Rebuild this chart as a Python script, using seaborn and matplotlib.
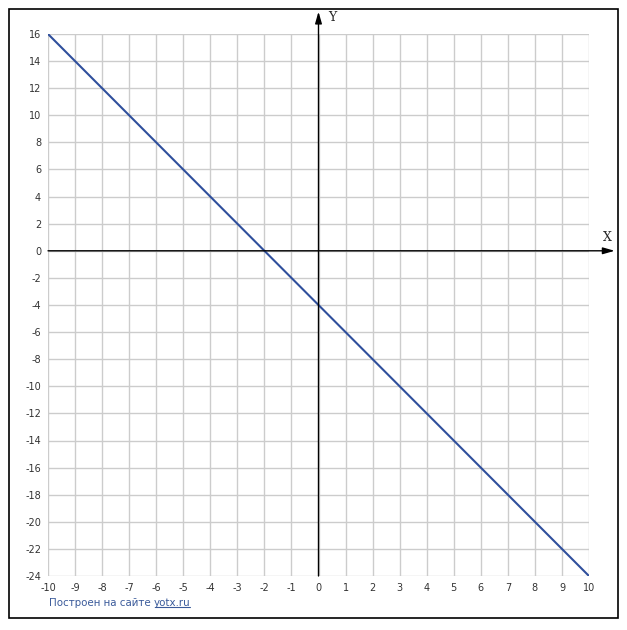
import matplotlib
matplotlib.use("Agg")
import matplotlib.pyplot as plt
import numpy as np
import seaborn as sns

# line y = -2x - 4
x_vals = [-10, 10]
y_vals = [16, -24]
x_ticks = list(range(-10, 11))
y_ticks = list(range(-24, 17, 2))

sns.set_style("white")
plt.rcParams['font.family'] = ['DejaVu Sans']
plt.rcParams['axes.unicode_minus'] = False

W, H = 627, 630
fig = plt.figure(figsize=(W / 100, H / 100), dpi=100)
fig.patch.set_facecolor("white")

# outer black frame
fig.add_artist(plt.Rectangle((9 / W, 1 - 618 / H), 609 / W, 609 / H, transform=fig.transFigure,
                             fill=False, edgecolor="black", linewidth=1.2))

ax = fig.add_axes([48 / W, 1 - 576 / H, 541 / W, 542 / H])
ax.set_xlim(-10, 10)
ax.set_ylim(-24, 16)
ax.set_xticks(x_ticks)
ax.set_yticks(y_ticks)
ax.grid(True, color="#cccccc", linewidth=1)
ax.set_axisbelow(True)
for s in ax.spines.values():
    s.set_visible(False)
ax.tick_params(length=0, labelsize=7, labelcolor="#333333", pad=5)

sns.lineplot(x=x_vals, y=y_vals, ax=ax, color="#2f4f9c", linewidth=1.5)

# axes with arrows
arrow = dict(arrowstyle="-|>,head_length=0.7,head_width=0.2", color="black", lw=1, shrinkA=0, shrinkB=0)
ax.annotate("", xy=(10.95, 0), xytext=(-10, 0), annotation_clip=False, arrowprops=arrow)
ax.annotate("", xy=(0, 17.65), xytext=(0, -24), annotation_clip=False, arrowprops=arrow)
ax.text(10.67, 1.0, "X", fontsize=9, family="serif", ha="center", va="center", clip_on=False)
ax.text(0.5, 17.25, "Y", fontsize=9, family="serif", ha="center", va="center", clip_on=False)

# footer
fs = 7.4
t1 = fig.text(49 / W, 1 - 603 / H, "Построен на сайте ", fontsize=fs, color="#3a5a9a", va="center")
fig.canvas.draw()
r = fig.canvas.get_renderer()
bb = t1.get_window_extent(r)
t2 = fig.text(bb.x1 / W, 1 - 603 / H, "yotx.ru", fontsize=fs, color="#3a5a9a", va="center")
fig.canvas.draw()
bb2 = t2.get_window_extent(r)
uy = bb2.y0 + 1
fig.add_artist(plt.Line2D([(bb2.x0 + 1) / W, (bb2.x1 - 1) / W], [uy / H, uy / H], transform=fig.transFigure,
                          color="#3a5a9a", linewidth=0.8))

fig.savefig("out.png", dpi=100)
